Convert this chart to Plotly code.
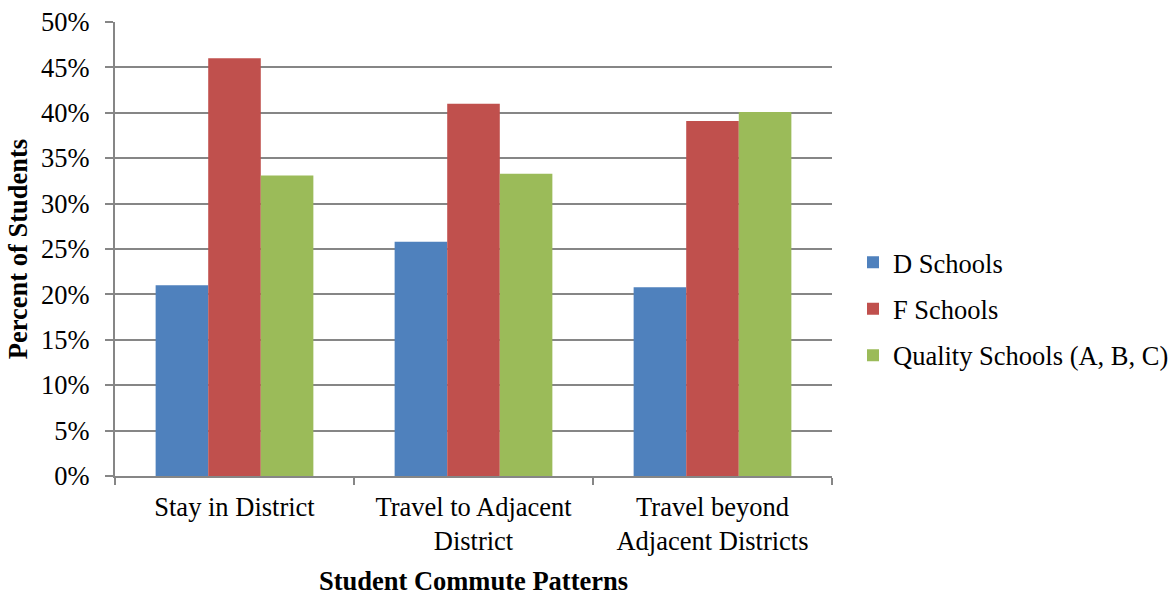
import plotly.graph_objects as go

categories = ["Stay in District", "Travel to Adjacent<br>District", "Travel beyond<br>Adjacent Districts"]
d_schools = [0.210, 0.258, 0.208]
f_schools = [0.460, 0.410, 0.391]
q_schools = [0.331, 0.333, 0.401]
series_names = ["D Schools", "F Schools", "Quality Schools (A, B, C)"]
series_colors = ["#4F81BD", "#C0504D", "#9BBB59"]
y_ticks = [0, 0.05, 0.10, 0.15, 0.20, 0.25, 0.30, 0.35, 0.40, 0.45, 0.50]
y_tick_labels = ["0%", "5%", "10%", "15%", "20%", "25%", "30%", "35%", "40%", "45%", "50%"]

FONT = "Liberation Serif, Times New Roman, serif"
FS = 26.5

fig = go.Figure()
for i, (name, vals, col) in enumerate(zip(series_names, [d_schools, f_schools, q_schools], series_colors)):
    fig.add_trace(go.Bar(
        x=categories, y=vals, name=name, legendgroup=f"g{i}",
        marker=dict(color=col, line=dict(width=0)),
    ))

fig.update_layout(
    width=1176, height=596,
    margin=dict(l=115, r=344, t=22, b=120, autoexpand=False),
    paper_bgcolor="white", plot_bgcolor="white",
    barmode="group", bargap=0.34, bargroupgap=0,
    font=dict(family=FONT, size=FS, color="black"),
    showlegend=True,
    legend=dict(
        xref="container", yref="container",
        x=853 / 1176, y=1 - 309 / 596, xanchor="left", yanchor="middle",
        font=dict(family=FONT, size=FS, color="black"),
        tracegroupgap=9, itemwidth=30,
        bgcolor="rgba(0,0,0,0)",
    ),
    xaxis=dict(
        showline=True, linecolor="#868686", linewidth=2,
        ticks="outside", ticklen=7, tickcolor="#868686", tickwidth=2,
        tickson="boundaries", ticklabelstandoff=6, automargin=False,
        tickfont=dict(family=FONT, size=FS, color="black"),
        title=dict(text="<b>Student Commute Patterns</b>", font=dict(family=FONT, size=FS), standoff=34),
    ),
    yaxis=dict(
        range=[0, 0.5], tickvals=y_ticks, ticktext=y_tick_labels,
        showline=True, linecolor="#868686", linewidth=2,
        ticks="outside", ticklen=8, tickcolor="#868686", tickwidth=2,
        showgrid=True, gridcolor="#868686", gridwidth=2,
        zeroline=False, ticklabelstandoff=10, automargin=False,
        tickfont=dict(family=FONT, size=FS, color="black"),
        title=dict(text="<b>Percent of Students</b>", font=dict(family=FONT, size=FS), standoff=6),
    ),
)

fig.write_html("out.html")
